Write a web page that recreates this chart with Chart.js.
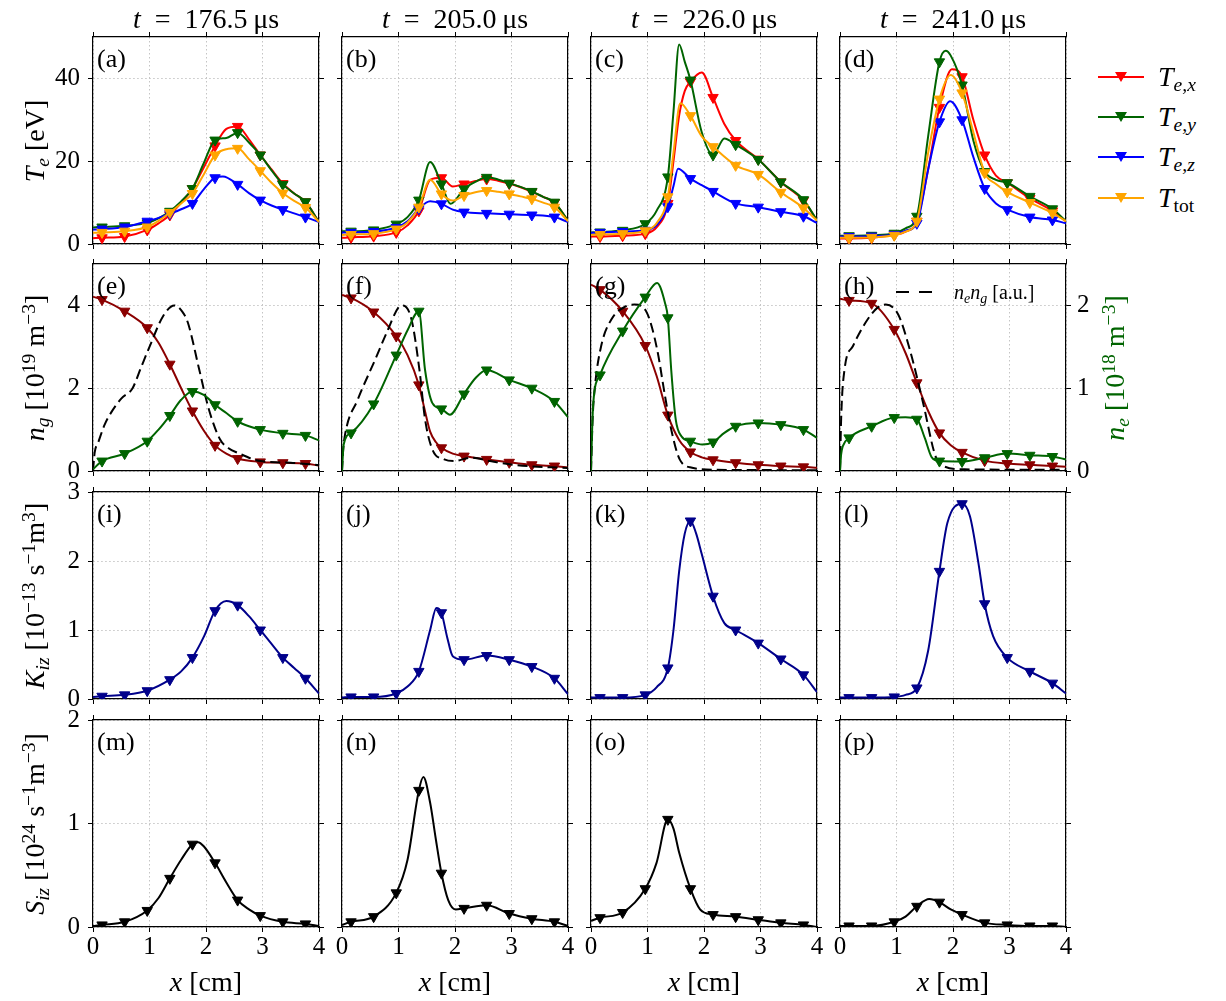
<!DOCTYPE html>
<html>
<head>
<meta charset="utf-8">
<script src="https://cdn.jsdelivr.net/npm/chart.js@4.4.1/dist/chart.umd.min.js"></script>
<style>
  body { margin: 0; background: #fff; }
  #fig { position: relative; width: 1226px; height: 1001px; overflow: hidden;
         font-family: 'Liberation Serif', 'Times New Roman', serif; color: #000; }
  #fig canvas { position: absolute; }
  .txt { position: absolute; white-space: nowrap; line-height: 1; }
  .c { transform: translate(-50%, -50%); }
  .rot { transform: translate(-50%, -50%) rotate(-90deg); }
  sub { font-size: 0.7em; vertical-align: -0.25em; line-height: 0; }
  sup { font-size: 0.7em; vertical-align: 0.45em; line-height: 0; }
  .leg-line { position: absolute; height: 2px; }
  .leg-tri { position: absolute; width: 0; height: 0; border-left: 6px solid transparent;
             border-right: 6px solid transparent; border-top: 10px solid; }
</style>
</head>
<body>
<div id="fig"></div>
<script>
// marker positions (every 0.4 cm)
const markerX = [0.16, 0.56, 0.96, 1.36, 1.76, 2.16, 2.56, 2.96, 3.36, 3.76];
const times = ['176.5', '205.0', '226.0', '241.0'];
const letters = 'abcdefghijklmnop';

// row 1: electron temperatures [eV]
const a_Tx = [[0,1.4],[0.16,1.5],[0.56,1.8],[0.96,3.4],[1.16,5.0],[1.36,7.0],[1.56,10.0],[1.76,13.4],[1.96,18.5],[2.16,23.7],[2.36,27.8],[2.56,28.4],[2.76,25.3],[2.96,21.5],[3.16,18.0],[3.36,14.6],[3.56,12.2],[3.76,10.2],[4,5.3]];
const a_Ty = [[0,4.0],[0.16,4.1],[0.56,4.4],[0.96,5.1],[1.16,6.2],[1.36,7.9],[1.56,10.3],[1.76,13.4],[1.96,19.5],[2.16,25.1],[2.36,25.6],[2.56,26.9],[2.76,24.5],[2.96,21.5],[3.16,17.8],[3.36,14.4],[3.56,12.2],[3.76,10.2],[4,5.3]];
const a_Tz = [[0,3.5],[0.16,3.6],[0.56,4.1],[0.96,5.5],[1.16,6.3],[1.36,7.3],[1.56,8.4],[1.76,9.8],[1.96,13.2],[2.16,16.0],[2.3,16.3],[2.56,14.4],[2.76,12.3],[2.96,10.6],[3.16,9.3],[3.36,8.3],[3.56,7.4],[3.76,6.5],[4,5.3]];
const a_Tt = [[0,2.7],[0.16,2.8],[0.56,3.1],[0.96,4.1],[1.16,5.6],[1.36,7.6],[1.56,9.8],[1.76,12.2],[1.96,16.8],[2.16,21.5],[2.36,22.9],[2.56,23.1],[2.76,20.5],[2.96,17.7],[3.16,14.8],[3.36,12.3],[3.56,10.4],[3.76,8.8],[4,5.3]];

const b_Tx = [[0,1.5],[0.16,1.6],[0.56,1.9],[0.96,2.8],[1.16,4.5],[1.36,8.0],[1.56,15.5],[1.76,16.0],[1.96,13.9],[2.16,14.5],[2.36,15.2],[2.56,15.7],[2.76,15.3],[2.96,14.6],[3.16,13.7],[3.36,12.6],[3.56,11.4],[3.76,10.0],[4,5.6]];
const b_Ty = [[0,3.1],[0.16,3.1],[0.56,3.4],[0.96,4.8],[1.16,6.5],[1.36,10.6],[1.56,19.8],[1.76,14.5],[1.92,9.7],[2.16,13.3],[2.36,15.0],[2.56,16.1],[2.76,15.6],[2.96,14.7],[3.16,13.8],[3.36,12.7],[3.56,11.4],[3.76,10.1],[4,5.6]];
const b_Tz = [[0,2.8],[0.16,2.8],[0.56,3.0],[0.96,4.0],[1.16,5.5],[1.36,8.5],[1.56,10.3],[1.76,9.7],[1.96,8.3],[2.16,7.7],[2.56,7.4],[2.96,7.2],[3.36,7.0],[3.76,6.5],[4,5.3]];
const b_Tt = [[0,2.2],[0.16,2.3],[0.56,2.5],[0.96,3.6],[1.16,5.2],[1.36,8.9],[1.56,15.5],[1.76,12.1],[1.96,10.5],[2.16,11.7],[2.36,12.5],[2.56,12.9],[2.76,12.6],[2.96,12.1],[3.16,11.5],[3.36,10.9],[3.56,10.0],[3.76,8.9],[4,5.5]];

const c_Tx = [[0,1.8],[0.16,1.8],[0.56,2.0],[0.96,2.5],[1.16,4.0],[1.36,9.8],[1.46,20],[1.56,31],[1.66,37],[1.76,39.2],[1.96,41.4],[2.16,35.4],[2.36,29],[2.56,25],[2.96,20.5],[3.36,15],[3.76,10.5],[4,5.7]];
const c_Ty = [[0,2.8],[0.16,2.9],[0.56,3.3],[0.96,4.9],[1.16,8],[1.36,16.2],[1.46,32],[1.56,48.2],[1.66,44],[1.76,39.6],[1.96,27],[2.16,21.5],[2.36,25.5],[2.56,24],[2.96,20.4],[3.36,15],[3.76,10.7],[4,5.7]];
const c_Tz = [[0,2.7],[0.16,2.8],[0.56,3.0],[0.96,3.3],[1.16,4.5],[1.36,9],[1.46,14],[1.54,18.2],[1.76,15.8],[1.96,14.2],[2.16,12.7],[2.56,9.8],[2.96,8.9],[3.36,7.8],[3.76,6.7],[4,5.1]];
const c_Tt = [[0,2.2],[0.16,2.3],[0.56,2.5],[0.96,3.2],[1.16,5],[1.36,11.4],[1.46,22],[1.58,34],[1.76,31],[1.96,26],[2.16,23.5],[2.56,19],[2.96,16.8],[3.36,12.5],[3.76,8.7],[4,5.7]];

const d_Tx = [[0,1.3],[0.16,1.3],[0.56,1.5],[0.96,2.2],[1.16,3.0],[1.36,5.5],[1.56,18],[1.76,33],[1.98,42.2],[2.16,40.4],[2.36,30],[2.56,21.5],[2.76,16.5],[2.96,14.8],[3.36,11],[3.76,8],[4,5.5]];
const d_Ty = [[0,2.0],[0.16,2.0],[0.56,2.1],[0.96,2.6],[1.16,3.8],[1.36,6.7],[1.56,26],[1.76,44],[1.87,46.7],[1.96,45.5],[2.16,38.4],[2.36,25],[2.56,17.5],[2.76,15.5],[2.96,14.8],[3.36,11.5],[3.76,8.5],[4,5.5]];
const d_Tz = [[0,1.8],[0.16,1.8],[0.56,1.9],[0.96,2.3],[1.16,3.2],[1.36,5],[1.56,18],[1.76,29.5],[1.95,34.5],[2.16,30],[2.36,21],[2.56,13.4],[2.76,9.8],[2.96,8.3],[3.36,6.5],[3.76,5.8],[4,5.0]];
const d_Tt = [[0,1.5],[0.16,1.5],[0.56,1.6],[0.96,2.1],[1.16,3.0],[1.36,5.5],[1.56,22],[1.76,35],[1.96,40.8],[2.16,36.5],[2.36,27],[2.56,17.2],[2.76,14.5],[2.96,12.6],[3.36,10],[3.76,7.5],[4,5.5]];

// row 2: neutral density n_g [1e19 m^-3], electron density n_e [1e18 m^-3], n_e*n_g [a.u.]
const e_ng = [[0,4.21],[0.16,4.14],[0.56,3.86],[0.96,3.46],[1.16,3.1],[1.36,2.58],[1.56,2.0],[1.76,1.45],[1.96,0.98],[2.16,0.62],[2.36,0.42],[2.56,0.3],[2.96,0.22],[3.36,0.2],[3.76,0.18],[4,0.13]];
const e_ne = [[0,0.02],[0.16,0.12],[0.56,0.21],[0.96,0.36],[1.16,0.5],[1.36,0.67],[1.56,0.86],[1.76,0.96],[1.96,0.92],[2.16,0.8],[2.36,0.7],[2.56,0.6],[2.76,0.54],[2.96,0.5],[3.36,0.455],[3.76,0.43],[4,0.37]];
const e_nn = [[0,0],[0.03,0.45],[0.09,0.68],[0.2,1.1],[0.32,1.41],[0.5,1.75],[0.7,2.0],[0.85,2.5],[1.0,3.0],[1.24,3.74],[1.44,4.0],[1.58,3.85],[1.68,3.58],[1.88,2.45],[2.05,1.49],[2.25,0.76],[2.4,0.55],[2.56,0.44],[2.96,0.24],[3.5,0.2],[4,0.14]];

const f_ng = [[0,4.25],[0.16,4.18],[0.56,3.84],[0.96,3.26],[1.16,2.8],[1.36,2.08],[1.46,1.5],[1.56,0.95],[1.66,0.7],[1.76,0.56],[1.96,0.42],[2.16,0.36],[2.56,0.28],[2.96,0.21],[3.36,0.15],[3.76,0.12],[4,0.08]];
const f_ne = [[0,0],[0.03,0.32],[0.16,0.46],[0.56,0.81],[0.96,1.4],[1.16,1.7],[1.36,1.93],[1.47,1.22],[1.6,0.82],[1.76,0.75],[1.91,0.68],[2.16,0.93],[2.36,1.12],[2.56,1.22],[2.96,1.1],[3.36,1.0],[3.76,0.84],[4,0.65]];
const f_nn = [[0,0],[0.02,0.5],[0.05,0.85],[0.28,1.73],[0.59,2.7],[0.79,3.34],[1.0,3.95],[1.08,4.0],[1.23,3.66],[1.37,2.45],[1.47,1.25],[1.6,0.52],[1.81,0.28],[1.98,0.24],[2.28,0.32],[2.62,0.24],[3.1,0.14],[4,0.07]];

const g_ng = [[0,4.5],[0.16,4.38],[0.56,3.86],[0.96,3.03],[1.16,2.3],[1.36,1.35],[1.56,0.75],[1.76,0.46],[1.96,0.33],[2.16,0.27],[2.56,0.2],[2.96,0.15],[3.36,0.12],[3.76,0.1],[4,0.08]];
const g_ne = [[0,0],[0.02,0.5],[0.04,0.82],[0.16,1.16],[0.56,1.69],[0.96,2.1],[1.17,2.27],[1.31,2.03],[1.36,1.85],[1.42,1.22],[1.5,0.62],[1.6,0.42],[1.76,0.36],[1.97,0.32],[2.16,0.35],[2.36,0.46],[2.56,0.54],[2.96,0.58],[3.36,0.56],[3.76,0.5],[4,0.4]];
const g_nn = [[0,0],[0.03,1.3],[0.07,2.05],[0.18,3.02],[0.36,3.66],[0.62,3.98],[0.77,4.02],[0.99,3.82],[1.17,2.94],[1.31,1.81],[1.42,1.0],[1.57,0.28],[1.79,0.08],[2.2,0.03],[4,0.02]];

const h_ng = [[0,4.16],[0.16,4.12],[0.56,4.05],[0.96,3.42],[1.16,2.85],[1.36,2.13],[1.56,1.45],[1.76,0.92],[1.96,0.62],[2.16,0.45],[2.56,0.25],[2.96,0.18],[3.36,0.15],[3.76,0.12],[4,0.1]];
const h_ne = [[0,0],[0.02,0.2],[0.05,0.3],[0.16,0.4],[0.56,0.54],[0.96,0.645],[1.16,0.65],[1.36,0.625],[1.5,0.4],[1.62,0.17],[1.76,0.12],[2.16,0.115],[2.56,0.16],[2.96,0.21],[3.36,0.19],[3.76,0.175],[4,0.14]];
const h_nn = [[0,0],[0.02,1.25],[0.08,2.45],[0.23,3.02],[0.45,3.58],[0.66,3.94],[0.81,4.02],[1.03,3.78],[1.25,2.86],[1.47,1.65],[1.69,0.36],[1.83,0.12],[2.2,0.04],[4,0.03]];

// row 3: ionisation rate coefficient K_iz [1e-13 s^-1 m^3]
const i_K = [[0,0.03],[0.16,0.04],[0.56,0.06],[0.96,0.12],[1.36,0.28],[1.56,0.4],[1.76,0.6],[1.96,0.9],[2.16,1.28],[2.36,1.42],[2.56,1.36],[2.76,1.2],[2.96,1.0],[3.16,0.8],[3.36,0.6],[3.56,0.45],[3.76,0.3],[4,0.08]];
const j_K = [[0,0.02],[0.16,0.03],[0.56,0.03],[0.96,0.08],[1.16,0.18],[1.36,0.4],[1.56,1.0],[1.67,1.32],[1.76,1.25],[1.86,0.9],[1.96,0.62],[2.16,0.57],[2.56,0.63],[2.96,0.57],[3.36,0.47],[3.76,0.3],[4,0.07]];
const k_K = [[0,0.02],[0.16,0.02],[0.56,0.02],[0.96,0.06],[1.16,0.17],[1.36,0.45],[1.46,1.0],[1.56,1.85],[1.66,2.4],[1.76,2.58],[1.86,2.4],[1.96,2.1],[2.16,1.49],[2.36,1.1],[2.56,1.0],[2.96,0.81],[3.36,0.58],[3.76,0.35],[4,0.1]];
const l_K = [[0,0.02],[0.16,0.02],[0.56,0.02],[0.96,0.03],[1.16,0.06],[1.36,0.16],[1.56,0.7],[1.76,1.85],[1.9,2.55],[2.16,2.83],[2.3,2.65],[2.45,1.97],[2.56,1.38],[2.71,0.91],[2.96,0.6],[3.36,0.4],[3.76,0.23],[4,0.08]];

// row 4: ionisation source S_iz [1e24 s^-1 m^-3]
const m_S = [[0,0.01],[0.16,0.02],[0.56,0.05],[0.96,0.16],[1.16,0.28],[1.36,0.47],[1.56,0.65],[1.76,0.8],[1.86,0.82],[1.96,0.78],[2.16,0.62],[2.36,0.43],[2.56,0.26],[2.76,0.17],[2.96,0.11],[3.36,0.05],[3.76,0.03],[4,0.01]];
const n_S = [[0,0.02],[0.16,0.05],[0.56,0.1],[0.96,0.33],[1.16,0.65],[1.36,1.32],[1.44,1.45],[1.56,1.2],[1.66,0.85],[1.76,0.52],[1.88,0.26],[2.01,0.17],[2.16,0.18],[2.56,0.21],[2.96,0.13],[3.36,0.08],[3.76,0.05],[4,0.01]];
const o_S = [[0,0.06],[0.16,0.09],[0.56,0.14],[0.96,0.37],[1.16,0.62],[1.36,1.04],[1.46,0.95],[1.56,0.72],[1.76,0.37],[1.93,0.17],[2.16,0.12],[2.56,0.1],[2.96,0.07],[3.36,0.04],[3.76,0.02],[4,0.0]];
const p_S = [[0,0.01],[0.16,0.01],[0.56,0.01],[0.96,0.05],[1.16,0.1],[1.36,0.2],[1.58,0.27],[1.76,0.24],[1.96,0.17],[2.16,0.12],[2.56,0.04],[2.96,0.02],[3.36,0.01],[3.76,0.01],[4,0.0]];

const TE = [[a_Tx, a_Ty, a_Tz, a_Tt], [b_Tx, b_Ty, b_Tz, b_Tt], [c_Tx, c_Ty, c_Tz, c_Tt], [d_Tx, d_Ty, d_Tz, d_Tt]];
const NG = [e_ng, f_ng, g_ng, h_ng];
const NE = [e_ne, f_ne, g_ne, h_ne];
const NN = [e_nn, f_nn, g_nn, h_nn];
const KIZ = [i_K, j_K, k_K, l_K];
const SIZ = [m_S, n_S, o_S, p_S];

const yMax = [50, 5, 3, 2];
const yStep = [20, 2, 1, 1];
const TE_COLORS = ['#ff0000', '#006400', '#0000ff', '#ffa500'];
const TE_NAMES = ['<i>T</i><sub><i>e,x</i></sub>', '<i>T</i><sub><i>e,y</i></sub>', '<i>T</i><sub><i>e,z</i></sub>', '<i>T</i><sub>tot</sub>'];

const FONT = "'Liberation Serif', 'Times New Roman', serif";
const COL_X = [93, 342, 591, 840];
const ROW_Y = [37, 264, 492, 720];
const PW = 226, PH = 207;
// space around each plot: the side axes take AX px, the canvas edge adds EDGE px
const AX = 45, EDGE = 5, TOP = 22;
const fig = document.getElementById('fig');

function markerRadius(ctx) {
    const r = ctx.raw;
    return r && markerX.some(m => Math.abs(m - r.x) < 1e-6) ? 6 : 0;
}

function curve(arr, color, order, yAxisID = 'y', dash = null) {
    return {
        data: arr.map(([x, y]) => ({x, y})),
        yAxisID: yAxisID,
        order: order,
        borderColor: color,
        backgroundColor: color,
        borderWidth: 2,
        borderDash: dash || [],
        cubicInterpolationMode: 'monotone',
        pointStyle: 'triangle',
        pointRotation: 180,
        pointRadius: dash ? 0 : markerRadius,
        pointBorderWidth: 1,
        pointBackgroundColor: color,
        pointBorderColor: color,
        fill: false
    };
}

function axis(pos, max, step, showLabels, onArea, pad, size) {
    return {
        type: 'linear', position: pos, min: 0, max: max,
        afterFit: s => { if (s.isHorizontal()) s.height = size; else s.width = size; },
        ticks: {display: showLabels, stepSize: step, includeBounds: false, autoSkip: false, maxRotation: 0,
                padding: pad, color: '#000', font: {family: FONT, size: 25, lineHeight: 1}},
        grid: {display: true, drawOnChartArea: onArea, color: '#bdbdbd', lineWidth: 0.9,
               tickLength: 5, tickColor: '#000', tickWidth: 1},
        border: {display: true, color: '#000', width: 1.2, dash: [1.5, 2.5]}
    };
}

function panel(col, row, datasets) {
    const cv = document.createElement('canvas');
    cv.width = PW + 2 * (AX + EDGE);
    cv.height = PH + TOP + AX + EDGE;
    cv.style.left = (COL_X[col] - AX - EDGE) + 'px';
    cv.style.top = (ROW_Y[row] - TOP) + 'px';
    fig.appendChild(cv);
    const scales = {
        x: axis('bottom', 4, 1, row === 3, true, 3, AX),
        x2: axis('top', 4, 1, false, false, 3, 0),
        y: axis('left', yMax[row], yStep[row], col === 0, true, 8, AX)
    };
    if (row === 1) scales.y2 = axis('right', 2.5, 1, col === 3, false, 6, AX);
    else scales.y2 = axis('right', yMax[row], yStep[row], false, false, 6, AX);
    new Chart(cv, {
        type: 'line',
        data: {datasets: datasets},
        options: {
            responsive: false,
            animation: false,
            events: [],
            layout: {padding: {left: EDGE, right: EDGE, top: TOP, bottom: EDGE}},
            plugins: {legend: {display: false}, tooltip: {enabled: false}},
            scales: scales
        }
    });
}

function text(html, x, y, cls, size, extra) {
    const d = document.createElement('div');
    d.className = 'txt ' + cls;
    d.innerHTML = html;
    d.style.left = x + 'px';
    d.style.top = y + 'px';
    d.style.fontSize = size + 'px';
    if (extra) Object.assign(d.style, extra);
    fig.appendChild(d);
    return d;
}

for (let c = 0; c < 4; c++) {
    panel(c, 0, TE[c].map((s, i) => curve(s, TE_COLORS[i], 3 - i)));
    panel(c, 1, [
        curve(NG[c], '#8b0000', 2),
        curve(NN[c], '#000000', 1, 'y', [10, 5]),
        curve(NE[c], '#006400', 0, 'y2')
    ]);
    panel(c, 2, [curve(KIZ[c], '#00008b', 0)]);
    panel(c, 3, [curve(SIZ[c], '#000000', 0)]);

    const cx = COL_X[c] + PW / 2;
    text('<i>t</i>&nbsp;&nbsp;=&nbsp;&nbsp;' + times[c] + '&thinsp;μs', cx, 19, 'c', 28);
    text('<i>x</i> [cm]', cx, 982, 'c', 28);
    for (let r = 0; r < 4; r++) {
        text('(' + letters[r * 4 + c] + ')', COL_X[c] + 4, ROW_Y[r] + 9, '', 26);
    }
}

// y axis labels
const yLabels = [
    '<i>T</i><sub><i>e</i></sub> [eV]',
    '<i>n</i><sub><i>g</i></sub> [10<sup>19</sup> m<sup>−3</sup>]',
    '<i>K</i><sub><i>iz</i></sub> [10<sup>−13</sup> s<sup>−1</sup>m<sup>3</sup>]',
    '<i>S</i><sub><i>iz</i></sub> [10<sup>24</sup> s<sup>−1</sup>m<sup>−3</sup>]'
];
yLabels.forEach((lab, r) => text(lab, 35, ROW_Y[r] + PH / 2, 'rot', 28));
text('<i>n</i><sub><i>e</i></sub> [10<sup>18</sup> m<sup>−3</sup>]', 1115, ROW_Y[1] + PH / 2, 'rot', 28, {color: '#006400'});

// legend for the temperatures
const legY = [77, 117, 157, 198];
TE_COLORS.forEach((col, i) => {
    const ln = document.createElement('div');
    ln.className = 'leg-line';
    Object.assign(ln.style, {left: '1098px', top: (legY[i] - 1) + 'px', width: '46px', background: col});
    fig.appendChild(ln);
    const tri = document.createElement('div');
    tri.className = 'leg-tri';
    Object.assign(tri.style, {left: '1115px', top: (legY[i] - 5) + 'px', borderTopColor: col});
    fig.appendChild(tri);
    text(TE_NAMES[i], 1158, legY[i], '', 28, {transform: 'translateY(-50%)'});
});

// legend for n_e n_g in panel (h)
[[896, 909], [919, 932]].forEach(([x0, x1]) => {
    const ln = document.createElement('div');
    ln.className = 'leg-line';
    Object.assign(ln.style, {left: x0 + 'px', top: '291px', width: (x1 - x0) + 'px', background: '#000'});
    fig.appendChild(ln);
});
text('<i>n</i><sub><i>e</i></sub><i>n</i><sub><i>g</i></sub> [a.u.]', 954, 292, '', 20, {transform: 'translateY(-50%)'});
</script>
</body>
</html>
